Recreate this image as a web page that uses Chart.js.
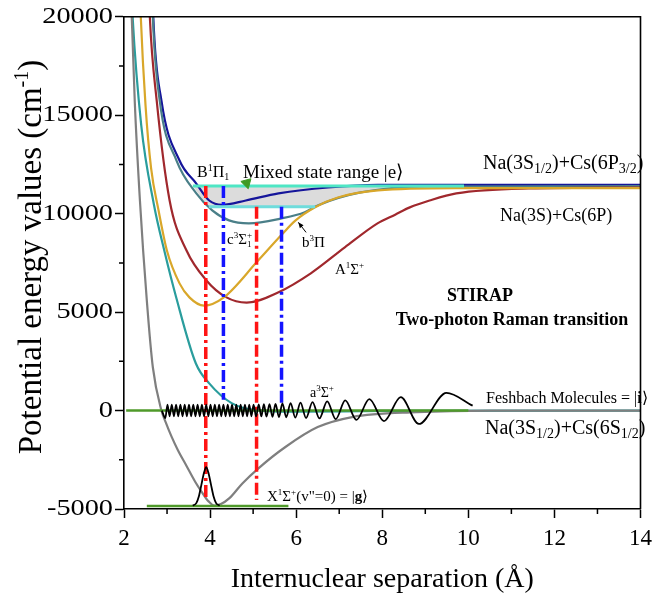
<!DOCTYPE html>
<html>
<head>
<meta charset="utf-8">
<script src="https://cdn.jsdelivr.net/npm/chart.js@4"></script>
<style>
  html, body { margin: 0; padding: 0; background: #fff; }
  #wrap { width: 659px; height: 599px; }
</style>
</head>
<body>
<div id="wrap"><canvas id="pec"></canvas></div>
<script>
// internuclear distance r (Å) and energy (cm^-1)
const xStateR = [2.10, 2.18, 2.25, 2.37, 2.53, 2.67, 2.87, 2.97, 3.1, 3.25, 3.45, 3.65, 3.82, 3.96, 4.1, 4.25, 4.45, 4.75, 5.13, 5.75, 6.5, 7.3, 8.8, 10.5, 14];
const xStateE = [26000, 20000, 15700, 10670, 5600, 2200, 0, -600, -1300, -2000, -2800, -3600, -4180, -4600, -4830, -4750, -4450, -3700, -2920, -1850, -840, -330, -80, 0, 0];

const aStateR = [2.14, 2.20, 2.40, 2.69, 2.95, 3.21, 3.67, 3.98, 4.5, 5.06, 6.0, 8.0, 14];
const aStateE = [23000, 20000, 14500, 10520, 8000, 5770, 2390, 1380, 380, 25, -60, -20, 0];

const bPiR = [2.33, 2.39, 2.50, 2.63, 2.80, 3.00, 3.29, 3.52, 3.86, 4.32, 5.10, 5.65, 5.98, 6.44, 6.97, 7.9, 9.7, 14];
const bPiE = [24000, 20000, 15500, 12300, 10200, 8100, 6460, 5750, 5330, 5750, 7580, 8900, 9650, 10330, 10820, 11180, 11300, 11300];

const aSigmaR = [2.54, 2.60, 2.76, 3.06, 3.45, 3.91, 4.37, 4.85, 5.59, 6.34, 7.13, 7.89, 8.3, 8.64, 9.1, 9.72, 11.4, 14];
const aSigmaE = [24000, 20000, 15740, 10670, 8140, 6620, 5760, 5480, 6010, 6970, 8290, 9510, 9950, 10320, 10670, 11030, 11280, 11330];

const cSigmaR = [2.62, 2.67, 2.83, 3.22, 3.68, 4.05, 4.44, 4.9, 5.66, 6.2, 6.5, 7.5, 9.03, 14];
const cSigmaE = [24000, 20000, 15740, 12700, 11030, 10170, 9660, 9510, 9760, 10070, 10420, 11080, 11380, 11400];

const bSigmaPiR = [2.63, 2.68, 2.87, 3.29, 3.68, 3.98, 4.28, 4.83, 5.59, 6.74, 7.9, 14];
const bSigmaPiE = [24000, 20000, 15740, 12700, 11530, 10670, 10450, 10670, 11030, 11330, 11460, 11460];

// Feshbach molecule wavefunction (extrema) and v''=0 ground wavefunction
const waveR = [2.88, 2.96, 3.01, 3.06, 3.11, 3.16, 3.21, 3.26, 3.31, 3.36, 3.41, 3.46, 3.51, 3.56, 3.61, 3.66, 3.71, 3.76, 3.81, 3.86, 3.91,
  3.96, 4.01, 4.06, 4.11, 4.16, 4.21, 4.26, 4.31, 4.36, 4.41, 4.46, 4.51, 4.56, 4.61, 4.66, 4.71, 4.76, 4.81, 4.86, 4.91, 4.96,
  5.01, 5.07, 5.13, 5.19, 5.25, 5.31, 5.38, 5.45, 5.52, 5.60, 5.68, 5.77, 5.87, 5.98, 6.10, 6.23, 6.38, 6.54, 6.72, 6.92,
  7.14, 7.40, 7.70, 8.04, 8.43, 8.85, 9.49, 10.10];
const waveE = [0, -380, 300, -290, 300, -290, 300, -290, 300, -290, 300, -290, 300, -290, 300, -290, 300, -290, 300, -290, 300,
  -290, 300, -290, 300, -290, 300, -290, 300, -290, 300, -290, 300, -290, 300, -290, 300, -290, 300, -290, 300, -290,
  300, -300, 310, -300, 320, -310, 330, -320, 340, -330, 360, -340, 380, -360, 400, -380, 430, -400, 470, -430,
  520, -470, 580, -540, 680, -680, 900, 250];

const gaussR = [3.60, 3.68, 3.74, 3.80, 3.86, 3.91, 3.96, 4.02, 4.08, 4.14, 4.22];
const gaussE = [-4830, -4700, -4350, -3750, -3150, -2870, -3150, -3750, -4350, -4700, -4830];

// horizontal levels
const feshR = [2.05, 10.0], feshE = [0, 0];
const groundR = [2.53, 5.82], groundE = [-4850, -4850];
const upperR = [3.60, 9.9], upperE = [11400, 11400];
const lowerR = [3.97, 6.44], lowerE = [10350, 10350];
const mixR = [3.60, 9.9, 9.0, 8.3, 7.6, 7.0, 6.44, 3.97, 3.80, 3.60];
const mixE = [11400, 11400, 11370, 11300, 11120, 10820, 10350, 10350, 10800, 11400];

// laser transitions (dash-dot verticals)
const red1R = [3.90, 3.90], red1E = [11400, -4540];
const blue1R = [4.31, 4.31], blue1E = [11400, 550];
const red2R = [5.08, 5.08], red2E = [10350, -4540];
const blue2R = [5.66, 5.66], blue2E = [10350, 200];

const pointerR = [4.85], pointerE = [11560];

const xTicksMinor = [3, 5, 7, 9, 11, 13];
const yTicksMinor = [-2500, 2500, 7500, 12500, 17500];

const pts = (r, e) => r.map((v, i) => ({ x: v, y: e[i] }));

const FONT = '"Liberation Serif", "Times New Roman", serif';

function drawRich(ctx, x, y, parts, size, align, weight, subScale) {
  const w = weight || 'normal';
  const big = `${w} ${size}px ${FONT}`;
  const small = `${w} ${Math.round(size * (subScale || 0.62))}px ${FONT}`;
  const boldF = `bold ${size}px ${FONT}`;
  const m = (t, f) => { ctx.font = f; return ctx.measureText(t).width; };
  const items = parts.map(p => {
    const [t, k, t2] = Array.isArray(p) ? p : [p, ''];
    if (k === '^') return { t, f: small, dy: -size * 0.4, w: m(t, small) };
    if (k === '_') return { t, f: small, dy: size * 0.2, w: m(t, small) };
    if (k === 'b') return { t, f: boldF, dy: 0, w: m(t, boldF) };
    if (k === '_^') return { t, t2, f: small, stack: true, w: Math.max(m(t, small), m(t2, small)) };
    return { t, f: big, dy: 0, w: m(t, big) };
  });
  const total = items.reduce((s, it) => s + it.w, 0);
  let cx = align === 'center' ? x - total / 2 : align === 'right' ? x - total : x;
  ctx.textAlign = 'left';
  ctx.textBaseline = 'alphabetic';
  items.forEach(it => {
    ctx.font = it.f;
    if (it.stack) {
      ctx.fillText(it.t, cx, y + size * 0.2);
      ctx.fillText(it.t2, cx, y - size * 0.4);
    } else {
      ctx.fillText(it.t, cx, y + it.dy);
    }
    cx += it.w;
  });
}

const decor = {
  id: 'decor',
  beforeDraw(chart) {
    const ctx = chart.ctx;
    ctx.save();
    ctx.fillStyle = '#fff';
    ctx.fillRect(0, 0, chart.width, chart.height);
    ctx.restore();
  },
  afterDraw(chart) {
    const { ctx, chartArea: ca } = chart;
    const xs = chart.scales.x, ys = chart.scales.y;
    ctx.save();
    ctx.strokeStyle = '#000';
    ctx.lineWidth = 1.6;
    ctx.beginPath();
    ctx.moveTo(ca.left, ca.top);
    ctx.lineTo(ca.right, ca.top);
    ctx.lineTo(ca.right, ca.bottom);
    ctx.stroke();

    // minor ticks
    ctx.lineWidth = 1.5;
    ctx.beginPath();
    xTicksMinor.forEach(v => {
      const px = xs.getPixelForValue(v);
      ctx.moveTo(px, ca.bottom);
      ctx.lineTo(px, ca.bottom + 5);
    });
    yTicksMinor.forEach(v => {
      const py = ys.getPixelForValue(v);
      ctx.moveTo(ca.left, py);
      ctx.lineTo(ca.left - 5, py);
    });
    ctx.stroke();

    // y tick labels (wide, like the original)
    ctx.fillStyle = '#000';
    ctx.font = `23px ${FONT}`;
    ctx.textAlign = 'right';
    ctx.textBaseline = 'middle';
    ys.ticks.forEach(t => {
      const py = ys.getPixelForValue(t.value);
      ctx.save();
      ctx.translate(ca.left - 11, py);
      ctx.scale(1.23, 1);
      ctx.fillText(String(t.value), 0, 0);
      ctx.restore();
    });

    // axis titles
    drawRich(ctx, (ca.left + ca.right) / 2, 587, ['Internuclear separation (Å)'], 28, 'center');
    ctx.save();
    ctx.translate(41, 257);
    ctx.rotate(-Math.PI / 2);
    drawRich(ctx, 0, 0, ['Potential energy values (cm', ['-1', '^'], ')'], 33, 'center');
    ctx.restore();

    // state labels
    drawRich(ctx, 197, 177, ['B', ['1', '^'], 'Π', ['1', '_']], 16);
    drawRich(ctx, 243, 178, ['Mixed state range |e⟩'], 19);
    drawRich(ctx, 483, 169, ['Na(3S', ['1/2', '_'], ')+Cs(6P', ['3/2', '_'], ')'], 20, 'left', 'normal', 0.68);
    drawRich(ctx, 500, 221, ['Na(3S)+Cs(6P)'], 18);
    drawRich(ctx, 227, 244, ['c', ['3', '^'], 'Σ', ['1', '_^', '+']], 15);
    drawRich(ctx, 302, 247, ['b', ['3', '^'], 'Π'], 15);
    drawRich(ctx, 335, 274, ['A', ['1', '^'], 'Σ', ['+', '^']], 15);
    drawRich(ctx, 480, 301, ['STIRAP'], 18, 'center', 'bold');
    drawRich(ctx, 512, 325, ['Two-photon Raman transition'], 18, 'center', 'bold');
    drawRich(ctx, 310, 397, ['a', ['3', '^'], 'Σ', ['+', '^']], 14);
    drawRich(ctx, 486, 403, ['Feshbach Molecules = |', ['i', 'b'], '⟩'], 16);
    drawRich(ctx, 485, 434, ['Na(3S', ['1/2', '_'], ')+Cs(6S', ['1/2', '_'], ')'], 20, 'left', 'normal', 0.68);
    drawRich(ctx, 267, 501, ['X', ['1', '^'], 'Σ', ['+', '^'], '(v"=0) = |', ['g', 'b'], '⟩'], 15);

    // small arrow pointing at the b3Pi curve
    const ax0 = xs.getPixelForValue(6.23), ay0 = ys.getPixelForValue(9050);
    const ax1 = xs.getPixelForValue(6.05), ay1 = ys.getPixelForValue(9560);
    ctx.strokeStyle = '#000';
    ctx.lineWidth = 1;
    ctx.beginPath();
    ctx.moveTo(ax0, ay0);
    ctx.lineTo(ax1, ay1);
    ctx.stroke();
    const ang = Math.atan2(ay1 - ay0, ax1 - ax0);
    ctx.beginPath();
    ctx.moveTo(ax1, ay1);
    ctx.lineTo(ax1 - 6 * Math.cos(ang - 0.4), ay1 - 6 * Math.sin(ang - 0.4));
    ctx.lineTo(ax1 - 6 * Math.cos(ang + 0.4), ay1 - 6 * Math.sin(ang + 0.4));
    ctx.closePath();
    ctx.fillStyle = '#000';
    ctx.fill();
    ctx.restore();
  }
};

const curve = (r, e, color, width, order) => ({
  data: pts(r, e), borderColor: color, borderWidth: width, pointRadius: 0,
  cubicInterpolationMode: 'monotone', fill: false, order
});
const dashed = (r, e, color) => ({
  data: pts(r, e), borderColor: color, borderWidth: 3.5, pointRadius: 0,
  borderDash: [12, 4, 3, 4], tension: 0, fill: false, order: 2
});
const level = (r, e, color, width, order) => ({
  data: pts(r, e), borderColor: color, borderWidth: width, pointRadius: 0,
  tension: 0, fill: false, order
});

new Chart(document.getElementById('pec'), {
  type: 'line',
  data: {
    datasets: [
      { data: pts(pointerR, pointerE), showLine: false, pointStyle: 'triangle', rotation: 165,
        pointRadius: 6, pointBackgroundColor: '#3f9a22', pointBorderColor: '#3f9a22', order: 0 },
      curve(waveR, waveE, '#000', 1.8, 1),
      curve(gaussR, gaussE, '#000', 1.8, 1),
      dashed(red1R, red1E, '#ff1414'),
      dashed(red2R, red2E, '#ff1414'),
      dashed(blue1R, blue1E, '#1414ff'),
      dashed(blue2R, blue2E, '#1414ff'),
      level(feshR, feshE, '#4f9a2a', 2.5, 3),
      level(groundR, groundE, '#4f9a2a', 2.5, 3),
      level(upperR, upperE, '#4ee6c4', 3, 4),
      level(lowerR, lowerE, '#6fdcdc', 3, 4),
      curve(xStateR, xStateE, '#7f7f7f', 2.2, 5),
      curve(aStateR, aStateE, '#2a9d9d', 2.2, 5),
      curve(bPiR, bPiE, '#d9a72a', 2.2, 5),
      curve(aSigmaR, aSigmaE, '#a0282d', 2.2, 5),
      curve(cSigmaR, cSigmaE, '#4a7f88', 2.2, 5),
      curve(bSigmaPiR, bSigmaPiE, '#15159a', 2.2, 6),
      { data: pts(mixR, mixE), borderWidth: 0, pointRadius: 0, tension: 0,
        fill: 'shape', backgroundColor: '#dcdcdc', order: 10 }
    ]
  },
  options: {
    responsive: true,
    maintainAspectRatio: false,
    animation: false,
    events: [],
    layout: { padding: { top: 16, right: 13, left: 0, bottom: 0 } },
    plugins: { legend: { display: false }, tooltip: { enabled: false } },
    scales: {
      x: {
        type: 'linear', min: 2, max: 14,
        ticks: { stepSize: 2, color: '#000', padding: 7, maxRotation: 0, autoSkip: false,
          font: { family: 'Liberation Serif', size: 23 }, callback: v => String(v) },
        grid: { drawOnChartArea: false, drawTicks: true, tickLength: 9, tickWidth: 1.5, tickColor: '#000' },
        border: { color: '#000', width: 1.6 },
        afterFit: s => { s.height = 90; }
      },
      y: {
        min: -5000, max: 20000,
        ticks: { stepSize: 5000, color: 'transparent', font: { family: 'Liberation Serif', size: 23 },
          callback: v => String(v) },
        grid: { drawOnChartArea: false, drawTicks: true, tickLength: 9, tickWidth: 1.5, tickColor: '#000' },
        border: { color: '#000', width: 1.6 },
        afterFit: s => { s.width = 124; }
      }
    }
  },
  plugins: [decor]
});
</script>
</body>
</html>
